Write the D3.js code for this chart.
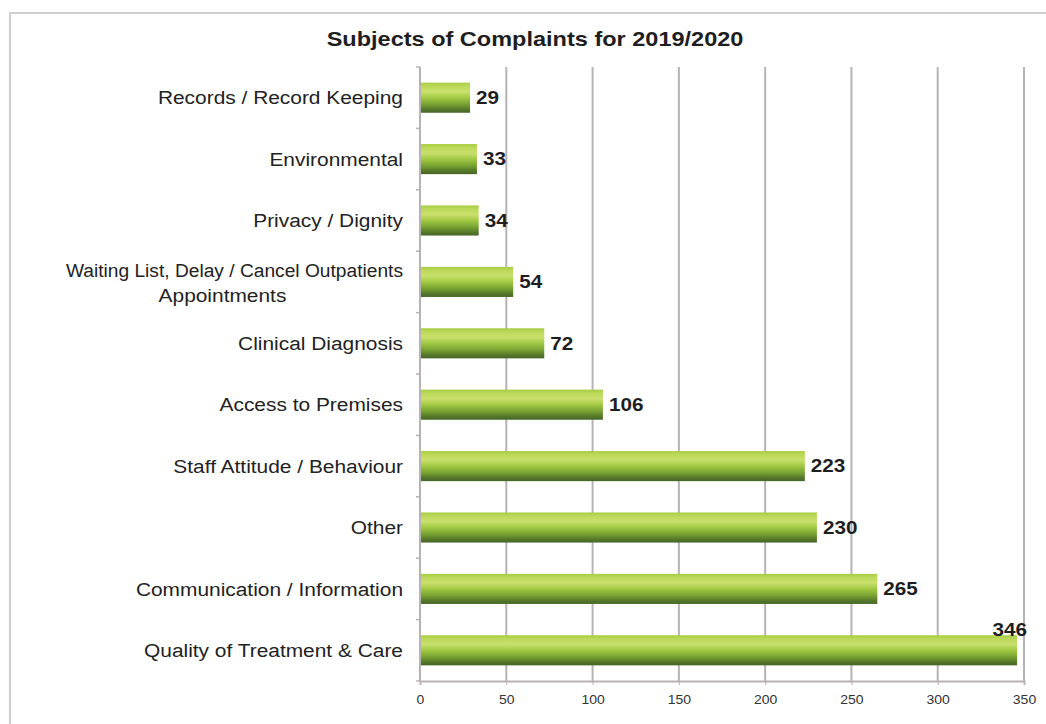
<!DOCTYPE html>
<html>
<head>
<meta charset="utf-8">
<script src="https://cdn.jsdelivr.net/npm/d3@7"></script>
<style>
  html, body { margin: 0; padding: 0; background: #fff; }
  svg { display: block; font-family: "Liberation Sans", Arial, sans-serif; }
</style>
</head>
<body>
<svg id="chart" width="1046" height="724"></svg>
<script>
// Complaint subjects, listed top to bottom as drawn
const categories = [
  "Records / Record Keeping",
  "Environmental",
  "Privacy / Dignity",
  "Waiting List, Delay / Cancel Outpatients\nAppointments",
  "Clinical Diagnosis",
  "Access to Premises",
  "Staff Attitude / Behaviour",
  "Other",
  "Communication / Information",
  "Quality of Treatment & Care"
];
const values = [29, 33, 34, 54, 72, 106, 223, 230, 265, 346];
const xTicks = [0, 50, 100, 150, 200, 250, 300, 350];
const title = "Subjects of Complaints for 2019/2020";

const svg = d3.select("#chart");
const W = 1046, H = 724;
const plot = { left: 420, right: 1024, top: 67, bottom: 681 };
const SX = 1.1; // horizontal stretch of the lettering

const x = d3.scaleLinear().domain([0, 350]).range([plot.left, plot.right]);
const y = d3.scaleBand().domain(categories).range([plot.top, plot.bottom])
  .paddingInner(0.51).paddingOuter(0.255);

// Text placed at (px, py) and widened horizontally
function label(parent, px, py, str, opts) {
  return parent.append("text")
    .attr("transform", `translate(${px},${py}) scale(${opts.sx || SX},1)`)
    .attr("text-anchor", opts.anchor || "start")
    .attr("dy", opts.dy || null)
    .attr("font-size", opts.size)
    .attr("font-weight", opts.bold ? "bold" : null)
    .attr("fill", opts.fill || "#222")
    .text(str);
}

// Vertical green gradient giving the bars a cylindrical look
const defs = svg.append("defs");
const grad = defs.append("linearGradient").attr("id", "barGrad")
  .attr("x1", 0).attr("y1", 0).attr("x2", 0).attr("y2", 1);
[
  [0, "#a8cc40"], [0.12, "#bcd95a"], [0.3, "#c9e06c"], [0.5, "#a2c944"],
  [0.72, "#78a232"], [0.88, "#577a2a"], [1, "#466428"]
].forEach(([o, c]) => grad.append("stop").attr("offset", o).attr("stop-color", c));

// Outer frame (open to the right edge)
svg.append("rect")
  .attr("x", 10).attr("y", 13).attr("width", W + 20).attr("height", H)
  .attr("fill", "none").attr("stroke", "#cfcfcf").attr("stroke-width", 2);

// Title
label(svg, 535, 46, title, { anchor: "middle", size: 21, bold: true, fill: "#1e1e1e", sx: 1.12 });

// Gridlines
svg.append("g").selectAll("line").data(xTicks.filter(t => t > 0)).join("line")
  .attr("x1", d => x(d)).attr("x2", d => x(d))
  .attr("y1", plot.top).attr("y2", plot.bottom)
  .attr("stroke", "#b7b2b4").attr("stroke-width", 2);

// Bottom axis
const xAxis = svg.append("g").attr("transform", `translate(0,${plot.bottom})`)
  .call(d3.axisBottom(x).tickValues(xTicks).tickSize(4).tickPadding(10));
xAxis.select(".domain").attr("stroke", "#b7b2b4").attr("stroke-width", 2);
xAxis.selectAll(".tick line").attr("stroke", "#b7b2b4");
xAxis.selectAll(".tick text")
  .attr("font-size", 12.5).attr("fill", "#333")
  .attr("font-family", "'Liberation Sans', Arial, sans-serif")
  .attr("transform", "scale(1.12,1)")
  .attr("x", 0);

// Left axis line with outward ticks between categories
svg.append("line")
  .attr("x1", plot.left).attr("x2", plot.left)
  .attr("y1", plot.top).attr("y2", plot.bottom)
  .attr("stroke", "#b7b2b4").attr("stroke-width", 2);
const step = y.step();
svg.append("g").selectAll("line").data(d3.range(categories.length + 1)).join("line")
  .attr("x1", plot.left - 4).attr("x2", plot.left)
  .attr("y1", i => plot.top + i * step).attr("y2", i => plot.top + i * step)
  .attr("stroke", "#b7b2b4").attr("stroke-width", 1.5);

// Bars
svg.append("g").selectAll("rect").data(categories).join("rect")
  .attr("x", x(0) + 1)
  .attr("y", d => y(d))
  .attr("width", (d, i) => x(values[i]) - x(0) - 1)
  .attr("height", y.bandwidth())
  .attr("fill", "url(#barGrad)");

// Category labels, right-aligned; two-line labels centred under the first line
const labelG = svg.append("g");
categories.forEach(c => {
  const lines = c.split("\n");
  const cy = y(c) + y.bandwidth() / 2;
  const base = { anchor: "end", size: 19, dy: "0.35em", fill: "#222" };
  if (lines.length === 1) {
    label(labelG, 403, cy, c, base);
  } else {
    const first = label(labelG, 403, cy - 12, lines[0], Object.assign({}, base, { sx: 1.01 }));
    const w = first.node().getComputedTextLength() * 1.01;
    label(labelG, 403 - w / 2 - 12, cy + 13, lines[1],
      { anchor: "middle", size: 19, dy: "0.35em", fill: "#222" });
  }
});

// Value labels; a label that would run past the plot sits above its bar end
const valG = svg.append("g");
categories.forEach((d, i) => {
  const v = values[i];
  const end = x(v);
  const opts = { size: 18, bold: true, fill: "#1e1e1e", sx: 1.15 };
  if (end + 40 > plot.right) {
    label(valG, end + 10, y(d) + 1, v, Object.assign({ anchor: "end" }, opts));
  } else {
    label(valG, end + 6, y(d) + y.bandwidth() / 2, v, Object.assign({ dy: "0.35em" }, opts));
  }
});
</script>
</body>
</html>
